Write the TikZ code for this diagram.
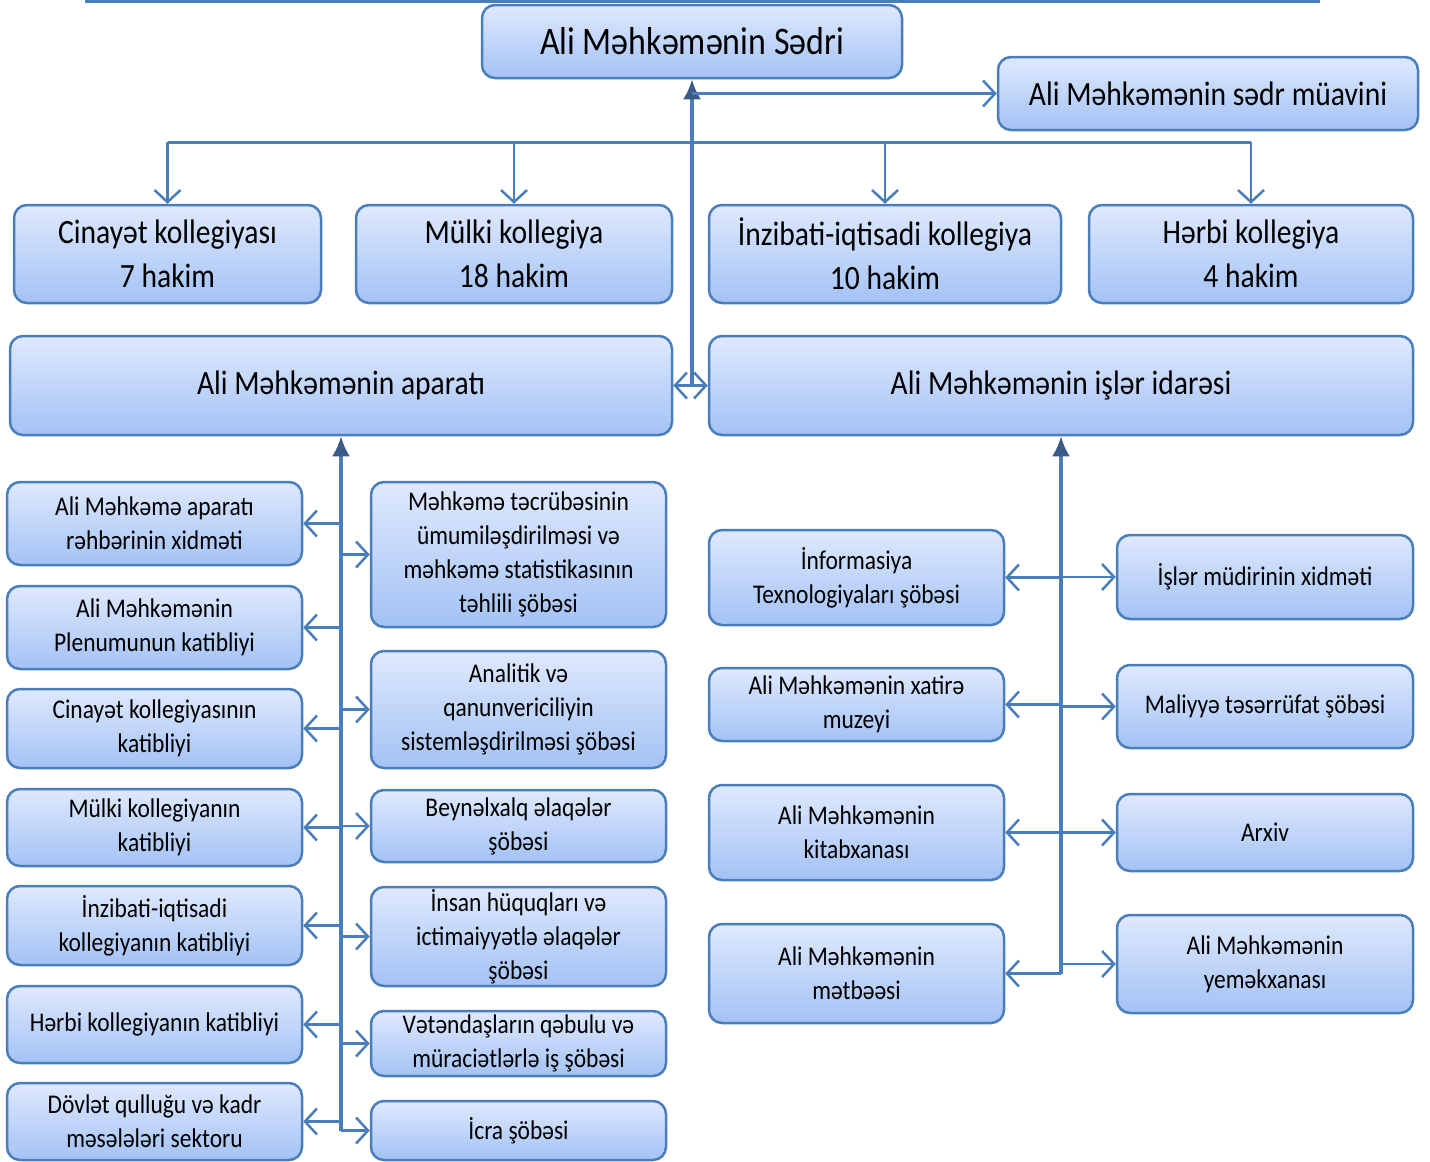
\documentclass[tikz,border=0pt]{standalone}
\usepackage{fontspec}
\setmainfont{Carlito}[FakeStretch=0.87]
\usetikzlibrary{arrows.meta,shadings}
\definecolor{lineblue}{HTML}{4A7EBB}
\definecolor{boxtop}{HTML}{DFE9FD}
\definecolor{boxbot}{HTML}{A3C2F5}
\definecolor{darktip}{HTML}{3B5A85}
\tikzset{
  box/.style={draw=lineblue, line width=2.5pt, rounded corners=13pt,
    top color=boxtop, bottom color=boxbot, align=center, inner sep=0pt,
    text=black, font=\fontsize{27}{34}\selectfont},
  bigbox/.style={box, font=\fontsize{34}{44}\selectfont},
  conn/.style={draw=lineblue, line width=2.5pt},
  ar/.style={conn, -{Straight Barb[length=12pt,width=26pt,line width=2.5pt]}},
  dkar/.style={conn, line width=3.5pt, -{Latex[length=20pt,width=18pt,color=darktip]}},
}
\begin{document}
\begin{tikzpicture}[x=1pt,y=-1pt]
\useasboundingbox (0,0) rectangle (1430,1162);
% top rule
\draw[conn, line width=3pt] (85,1.5) -- (1320,1.5);
% top level
\node[box, font=\fontsize{39}{44}\selectfont, minimum width=420pt, minimum height=73pt] (sedri) at (692,41.5) {Ali Məhkəmənin Sədri};
\node[bigbox, minimum width=420pt, minimum height=73pt] (muavin) at (1208,93.5) {Ali Məhkəmənin  sədr müavini};
% kollegiyas
\node[bigbox, minimum width=307pt, minimum height=98pt] (cin) at (167.5,254) {Cinayət  kollegiyası\\7 hakim};
\node[bigbox, minimum width=316pt, minimum height=98pt] (mulki) at (514,254) {Mülki kollegiya\\18 hakim};
\node[bigbox, minimum width=352pt, minimum height=98pt] (inz) at (885,254) {İnzibati-iqtisadi  kollegiya\\10 hakim};
\node[bigbox, minimum width=324pt, minimum height=98pt] (herbi) at (1251,254) {Hərbi kollegiya\\4 hakim};
% aparat / isler
\node[bigbox, minimum width=662pt, minimum height=99pt] (aparat) at (341,385.5) {Ali Məhkəmənin  aparatı};
\node[bigbox, minimum width=704pt, minimum height=99pt] (isler) at (1061,385.5) {Ali Məhkəmənin  işlər idarəsi};
% left column
\node[box, minimum width=295pt, minimum height=83pt] (L1) at (154.5,523.5) {Ali Məhkəmə aparatı\\rəhbərinin xidməti};
\node[box, minimum width=295pt, minimum height=83pt] (L2) at (154.5,627.5) {Ali Məhkəmənin\\Plenumunun katibliyi};
\node[box, minimum width=295pt, minimum height=79pt] (L3) at (154.5,728.5) {Cinayət kollegiyasının\\katibliyi};
\node[box, minimum width=295pt, minimum height=77pt] (L4) at (154.5,827.5) {Mülki kollegiyanın\\katibliyi};
\node[box, minimum width=295pt, minimum height=79pt] (L5) at (154.5,925.5) {İnzibati-iqtisadi\\kollegiyanın katibliyi};
\node[box, minimum width=295pt, minimum height=77pt] (L6) at (154.5,1024.5) {Hərbi kollegiyanın katibliyi};
\node[box, minimum width=295pt, minimum height=77pt] (L7) at (154.5,1121.5) {Dövlət qulluğu və kadr\\məsələləri sektoru};
% middle column
\node[box, minimum width=295pt, minimum height=145pt] (M1) at (518.5,554.5) {Məhkəmə təcrübəsinin\\ümumiləşdirilməsi və\\məhkəmə  statistikasının\\təhlili şöbəsi};
\node[box, minimum width=295pt, minimum height=117pt] (M2) at (518.5,709.5) {Analitik və\\qanunvericiliyin\\sistemləşdirilməsi şöbəsi};
\node[box, minimum width=295pt, minimum height=72pt] (M3) at (518.5,826) {Beynəlxalq  əlaqələr\\şöbəsi};
\node[box, minimum width=295pt, minimum height=99pt] (M4) at (518.5,936.5) {İnsan hüquqları və\\ictimaiyyətlə əlaqələr\\şöbəsi};
\node[box, minimum width=295pt, minimum height=65pt] (M5) at (518.5,1043.5) {Vətəndaşların qəbulu və\\müraciətlərlə iş şöbəsi};
\node[box, minimum width=295pt, minimum height=59pt] (M6) at (518.5,1130.5) {İcra şöbəsi};
% right-left column
\node[box, minimum width=295pt, minimum height=95pt] (R1) at (856.5,577.5) {İnformasiya\\Texnologiyaları şöbəsi};
\node[box, minimum width=295pt, minimum height=73pt] (R2) at (856.5,704.5) {Ali Məhkəmənin xatirə\\muzeyi};
\node[box, minimum width=295pt, minimum height=95pt] (R3) at (856.5,832.5) {Ali Məhkəmənin\\kitabxanası};
\node[box, minimum width=295pt, minimum height=99pt] (R4) at (856.5,973.5) {Ali Məhkəmənin\\mətbəəsi};
% right-right column
\node[box, minimum width=296pt, minimum height=84pt] (S1) at (1265,577) {İşlər müdirinin  xidməti};
\node[box, minimum width=296pt, minimum height=83pt] (S2) at (1265,706.5) {Maliyyə təsərrüfat şöbəsi};
\node[box, minimum width=296pt, minimum height=77pt] (S3) at (1265,832.5) {Arxiv};
\node[box, minimum width=296pt, minimum height=98pt] (S4) at (1265,964) {Ali Məhkəmənin\\yeməkxanası};
% ---- connectors: top ----
\coordinate (hub) at (sedri.south |- aparat.east);
\coordinate (bus) at (sedri.south |- 0,142);
\draw[conn, line width=3pt] (cin.north |- bus) -- (herbi.north |- bus);
\foreach \n in {cin,mulki,inz,herbi}{\draw[ar] (\n.north |- bus) -- (\n.north);}
\draw[dkar] (hub) -- (sedri.south);
\draw[ar] (sedri.south |- muavin.west) -- (muavin.west);
\draw[ar] (hub) -- (aparat.east);
\draw[ar] (hub) -- (isler.west);
% ---- left trunk ----
\draw[dkar] (M6.west -| aparat.south) -- (aparat.south);
\foreach \n in {L1,L2,L3,L4,L5,L6,L7}{\draw[ar] (\n.east -| aparat.south) -- (\n.east);}
\foreach \n in {M1,M2,M3,M4,M5,M6}{\draw[ar] (\n.west -| aparat.south) -- (\n.west);}
% ---- right trunk ----
\draw[dkar] (R4.east -| isler.south) -- (isler.south);
\foreach \n in {R1,R2,R3,R4}{\draw[ar] (\n.east -| isler.south) -- (\n.east);}
\foreach \n in {S1,S2,S3,S4}{\draw[ar] (\n.west -| isler.south) -- (\n.west);}
\end{tikzpicture}
\end{document}
